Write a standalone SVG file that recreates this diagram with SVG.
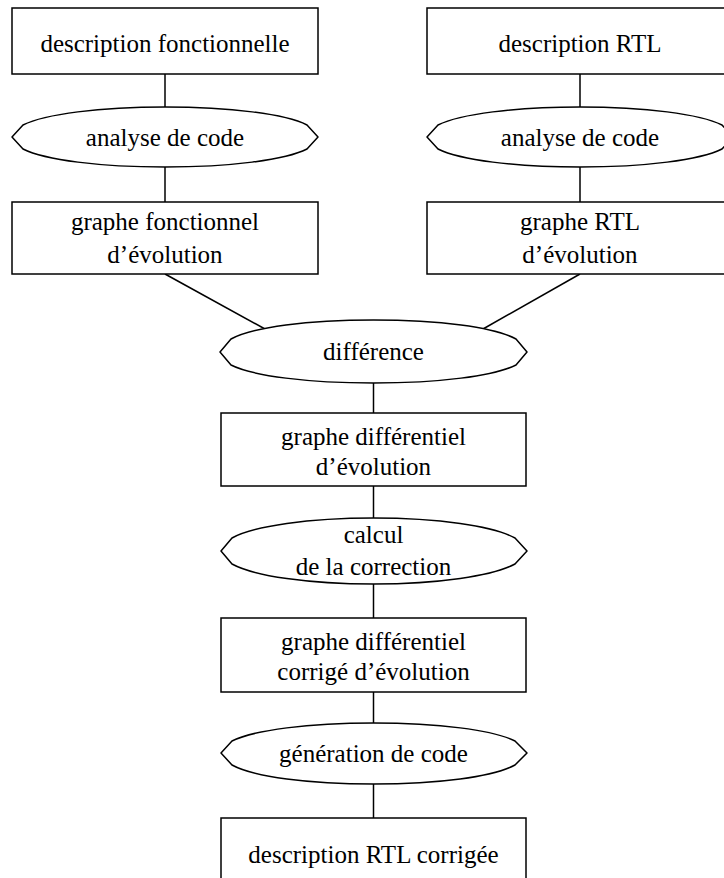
<svg xmlns="http://www.w3.org/2000/svg" width="724" height="878" viewBox="0 0 724 878">
<style>
.box{fill:#fff;stroke:#000;stroke-width:1.5}
.ell{fill:#fff;stroke:#000;stroke-width:1.5;stroke-linejoin:round}
.con{stroke:#000;stroke-width:1.5;fill:none}
text{font-family:"Liberation Serif","Times New Roman",serif;font-size:25px;fill:#000;text-anchor:middle}
</style>
<rect width="724" height="878" fill="#fff"/>
<g id="connectors">
<line class="con" x1="165" y1="74" x2="165" y2="107"/>
<line class="con" x1="165" y1="167" x2="165" y2="202"/>
<line class="con" x1="580" y1="74" x2="580" y2="107"/>
<line class="con" x1="580" y1="167" x2="580" y2="202"/>
<line class="con" x1="165" y1="274" x2="265" y2="329"/>
<line class="con" x1="580" y1="274" x2="483" y2="329"/>
<line class="con" x1="373.5" y1="383" x2="373.5" y2="413"/>
<line class="con" x1="373.5" y1="486" x2="373.5" y2="518"/>
<line class="con" x1="373.5" y1="584" x2="373.5" y2="618"/>
<line class="con" x1="373.5" y1="692" x2="373.5" y2="723"/>
<line class="con" x1="373.5" y1="784" x2="373.5" y2="818"/>
</g>
<g id="desc-fonc">
<rect class="box" x="12" y="8" width="306" height="66"/>
<text x="165" y="52">description fonctionnelle</text>
</g>
<g id="desc-rtl">
<rect class="box" x="427" y="8" width="306" height="66"/>
<text x="580" y="52">description RTL</text>
</g>
<g id="analyse-1">
<path class="ell" d="M12,137 L23,125 C45,114 100,107 165,107 C230,107 285,114 307,125 L318,137 L307,149 C285,160 230,167 165,167 C100,167 45,160 23,149 Z"/>
<text x="165" y="146">analyse de code</text>
</g>
<g id="analyse-2">
<path class="ell" d="M427,137 L438,125 C460,114 515,107 580,107 C645,107 700,114 722,125 L733,137 L722,149 C700,160 645,167 580,167 C515,167 460,160 438,149 Z"/>
<text x="580" y="146">analyse de code</text>
</g>
<g id="graphe-fonc">
<rect class="box" x="12" y="202" width="306" height="72"/>
<text x="165" y="230">graphe fonctionnel</text>
<text x="165" y="263">d’évolution</text>
</g>
<g id="graphe-rtl">
<rect class="box" x="427" y="202" width="306" height="72"/>
<text x="580" y="230">graphe RTL</text>
<text x="580" y="263">d’évolution</text>
</g>
<g id="difference">
<path class="ell" d="M220,352 L231,339 C253,327 308,320 373.5,320 C439,320 494,327 516,339 L527,352 L516,365 C494,376 439,383 373.5,383 C308,383 253,376 231,365 Z"/>
<text x="373.5" y="360">différence</text>
</g>
<g id="graphe-diff">
<rect class="box" x="221" y="413" width="305" height="73"/>
<text x="373.5" y="445">graphe différentiel</text>
<text x="373.5" y="475">d’évolution</text>
</g>
<g id="calcul">
<path class="ell" d="M221,551 L232,538 C254,526 309,518 373.5,518 C438,518 493,526 515,538 L527,551 L515,564 C493,576 438,584 373.5,584 C309,584 254,576 232,564 Z"/>
<text x="373.5" y="543">calcul</text>
<text x="373.5" y="575">de la correction</text>
</g>
<g id="graphe-corr">
<rect class="box" x="221" y="618" width="305" height="74"/>
<text x="373.5" y="650">graphe différentiel</text>
<text x="373.5" y="680">corrigé d’évolution</text>
</g>
<g id="generation">
<path class="ell" d="M221,753 L232,741 C254,730 309,723 373.5,723 C438,723 493,730 515,741 L527,753 L515,765 C493,777 438,784 373.5,784 C309,784 254,777 232,765 Z"/>
<text x="373.5" y="762">génération de code</text>
</g>
<g id="desc-rtl-corr">
<rect class="box" x="221" y="818" width="305" height="80"/>
<text x="373.5" y="863">description RTL corrigée</text>
</g>
</svg>
